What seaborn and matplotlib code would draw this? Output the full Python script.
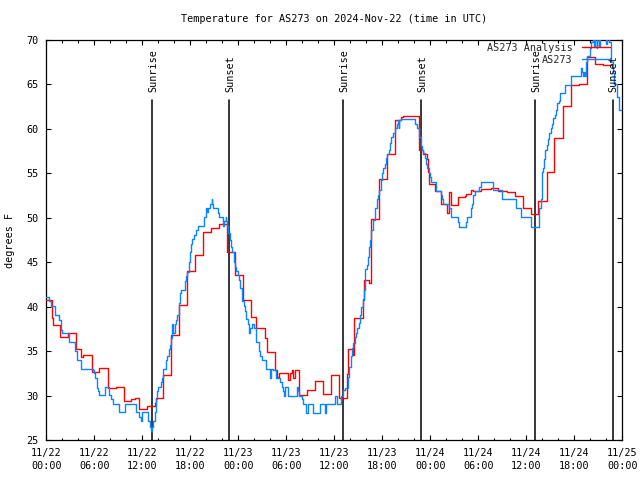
import matplotlib
matplotlib.use("Agg")
import matplotlib.pyplot as plt
import matplotlib.dates as mdates
import matplotlib.transforms as mtransforms
import numpy as np
import pandas as pd
import seaborn as sns

# ---------------- data ----------------
start = pd.Timestamp("2024-11-22 00:00")
end_hours = 72

series_names = ["AS273 Analysis", "AS273"]
series_colors = ["#ff0000", "#0a84ff"]

# hours after 11/22 00:00 UTC, temperature in degrees F (step values)
red_hours = [0.0, 0.7, 0.85, 1.7, 2.7, 3.7, 4.4, 4.6, 5.7, 6.6, 7.7, 8.7, 9.7, 10.6, 11.1,
             11.6, 12.6, 13.55, 13.7, 14.6, 15.6, 16.6, 17.6, 18.6, 19.6, 20.6, 21.6, 22.6,
             23.6, 24.6, 25.6, 26.2, 27.3, 27.6, 28.6, 28.9, 29.1, 30.25, 30.45, 30.75, 30.9,
             31.1, 31.65, 32.6, 33.6, 34.6, 35.6, 36.6, 37.6, 37.7, 38.3, 38.5, 39.6, 39.75,
             40.3, 40.6, 41.6, 42.6, 43.6, 44.4, 44.6, 45.6, 46.6, 47.1, 47.6, 47.75, 47.9,
             48.6, 49.3, 49.4, 50.1, 50.3, 50.65, 51.5, 52.3, 52.5, 53.1, 53.3, 54.4, 55.6,
             56.5, 57.55, 58.6, 59.55, 60.55, 61.5, 62.55, 63.5, 64.55, 65.55, 66.55, 67.55,
             68.55, 69.55, 70.6]
red_temps = [40.8, 38.7, 37.9, 36.6, 37.0, 35.2, 34.3, 34.6, 32.7, 33.1, 30.9, 31.0, 29.35,
             29.6, 29.7, 28.45, 28.8, 29.2, 29.7, 32.3, 36.8, 40.15, 44.0, 45.8, 48.4, 48.9,
             49.3, 46.1, 43.6, 40.8, 38.8, 37.6, 36.5, 34.9, 32.9, 32.1, 32.5, 31.8, 32.5,
             32.9, 32.0, 32.9, 30.1, 30.6, 31.6, 30.2, 32.3, 29.7, 32.4, 35.2, 34.6, 38.7,
             40.9, 43.0, 42.7, 49.9, 54.4, 57.2, 61.0, 61.3, 61.4, 61.5, 57.6, 57.2, 56.6,
             55.1, 53.8, 53.0, 52.4, 51.6, 50.5, 52.9, 51.4, 52.3, 52.4, 52.7, 53.1, 53.0,
             53.2, 53.3, 53.0, 52.9, 52.4, 51.1, 50.4, 51.9, 55.1, 59.0, 62.6, 64.9, 65.0,
             68.1, 67.3, 67.2, 67.2]

blue_hours = [0.0, 0.38, 0.55, 1.05, 1.13, 1.63, 1.8, 1.88, 1.96, 2.8, 2.88, 3.55, 3.63, 3.8,
              3.88, 4.3, 5.8, 5.96, 6.13, 6.3, 6.46, 6.63, 7.38, 7.88, 8.13, 8.38, 9.13, 9.8,
              9.88, 11.2, 11.63, 11.8, 11.96, 12.7, 12.96, 13.08, 13.21, 13.38, 13.54, 13.71,
              13.8, 13.96, 14.3, 14.46, 14.63, 14.96, 15.13, 15.3, 15.46, 15.63, 15.71, 15.88,
              16.04, 16.21, 16.3, 16.54, 16.71, 16.8, 17.3, 17.46, 17.55, 17.88, 17.96, 18.09,
              18.25, 18.5, 18.75, 19.0, 19.75, 19.92, 20.0, 20.08, 20.17, 20.5, 20.67, 20.75,
              20.84, 21.42, 21.59, 22.09, 22.25, 22.42, 22.5, 22.59, 22.75, 22.92, 23.09,
              23.25, 23.42, 23.59, 23.75, 23.92, 24.09, 24.25, 24.5, 24.67, 24.84, 25.0, 25.17,
              25.34, 25.5, 25.67, 26.0, 26.17, 26.25, 26.59, 26.75, 26.92, 27.5, 27.96, 28.1,
              28.3, 28.75, 29.25, 29.42, 29.59, 29.75, 29.84, 30.17, 31.4, 31.5, 31.6, 31.92,
              32.09, 32.5, 32.67, 33.38, 34.21, 34.9, 35.0, 36.1, 36.4, 36.9, 37.1, 37.3,
              37.71, 37.88, 38.05, 38.21, 38.3, 38.63, 38.71, 38.88, 39.05, 39.21, 39.38,
              39.55, 39.71, 39.8, 39.88, 40.05, 40.21, 40.38, 40.46, 40.63, 40.88, 41.13, 41.3,
              41.46, 41.63, 41.8, 41.96, 42.13, 42.3, 42.46, 42.63, 42.8, 42.96, 43.13, 43.38,
              43.63, 43.8, 43.96, 44.05, 44.13, 44.3, 46.13, 46.38, 46.55, 46.63, 46.8, 46.96,
              47.13, 47.3, 47.46, 47.63, 47.8, 47.96, 48.13, 48.71, 49.3, 49.46, 49.63, 50.38,
              50.55, 50.63, 51.46, 51.55, 52.5, 52.6, 53.05, 53.13, 53.21, 53.3, 53.38, 53.55,
              54.05, 54.3, 55.8, 56.92, 58.71, 59.3, 60.55, 61.65, 61.8, 61.96, 62.13, 62.21,
              62.38, 62.55, 62.71, 62.88, 63.05, 63.21, 63.38, 63.55, 63.71, 63.88, 64.05,
              64.21, 64.88, 65.55, 66.8, 66.96, 67.1, 67.2, 67.3, 67.46, 67.63, 67.96, 68.13,
              68.3, 68.5, 68.6, 68.8, 68.9, 69.1, 69.2, 70.0, 70.1, 70.4, 70.55, 70.8, 71.0,
              71.3, 71.55, 72.0]
blue_temps = [41.05, 40.6, 40.1, 39.5, 39.05, 38.5, 37.9, 37.4, 37.0, 36.55, 36.0, 35.5, 35.0,
              34.5, 34.0, 33.0, 32.9, 32.5, 32.0, 30.9, 30.5, 30.1, 31.0, 30.1, 29.6, 29.1,
              28.1, 28.6, 29.1, 28.1, 27.6, 27.1, 28.1, 27.1, 26.5, 26.0, 26.5, 27.1, 28.1,
              29.6, 30.5, 31.0, 31.5, 32.0, 33.0, 34.0, 34.5, 35.2, 35.7, 36.5, 38.0, 37.0,
              38.0, 38.5, 39.05, 40.4, 41.5, 41.9, 42.9, 43.4, 43.9, 45.0, 46.1, 47.1, 47.6,
              48.1, 48.6, 49.1, 50.05, 50.6, 51.1, 50.6, 51.1, 51.55, 52.1, 51.55, 51.1, 50.5,
              50.05, 49.1, 49.6, 50.05, 49.6, 49.1, 48.25, 47.5, 46.75, 46.1, 45.06, 44.5,
              44.0, 43.6, 43.0, 42.1, 40.6, 40.1, 39.5, 38.6, 38.1, 37.0, 37.6, 38.1, 37.6,
              37.0, 36.0, 35.0, 34.5, 34.0, 33.0, 32.0, 33.0, 32.9, 32.0, 31.5, 31.0, 30.5,
              30.0, 31.0, 30.0, 31.0, 30.5, 30.0, 29.6, 29.0, 28.0, 29.0, 28.0, 29.0, 28.0,
              29.0, 30.0, 29.0, 30.0, 30.6, 30.9, 32.05, 33.25, 34.4, 35.3, 35.9, 36.55, 37.0,
              37.56, 38.2, 39.06, 40.0, 40.75, 41.87, 43.0, 44.2, 44.7, 45.6, 46.75, 47.5,
              48.6, 49.7, 51.06, 52.07, 52.56, 53.1, 54.2, 55.07, 55.56, 56.1, 56.7, 57.2,
              57.6, 58.4, 59.05, 59.5, 60.06, 60.55, 61.0, 60.06, 61.0, 61.07, 60.6, 60.06,
              59.5, 59.05, 58.07, 57.6, 57.25, 56.7, 56.1, 55.56, 55.07, 54.55, 54.06, 53.05,
              52.56, 52.07, 51.6, 51.06, 50.5, 50.05, 49.56, 49.0, 49.56, 50.05, 50.5, 51.06,
              51.6, 52.07, 52.56, 53.05, 53.5, 54.06, 53.1, 52.1, 51.06, 50.05, 49.0, 51.06,
              52.1, 55.1, 55.56, 56.6, 57.6, 58.2, 58.9, 59.5, 60.06, 60.6, 61.2, 61.56, 62.1,
              62.9, 63.1, 64.0, 64.9, 66.0, 66.8, 66.4, 66.0, 66.4, 66.0, 67.55, 68.2, 69.06,
              69.8, 70.6, 69.2, 70.8, 69.1, 70.5, 69.3, 71.0, 69.5, 70.6, 69.8, 67.5, 66.25,
              65.1, 63.6, 62.1, 62.1]

sun_labels = ["Sunrise", "Sunset", "Sunrise", "Sunset", "Sunrise", "Sunset"]
sun_hours = [13.22, 22.9, 37.12, 46.9, 61.1, 70.78]

y_ticks = [25, 30, 35, 40, 45, 50, 55, 60, 65, 70]
title = "Temperature for AS273 on 2024-Nov-22 (time in UTC)"
y_label = "degrees F"

# ---------------- build table ----------------
def to_time(hours):
    return start + pd.to_timedelta(np.asarray(hours, dtype=float), unit="h")

df = pd.concat([
    pd.DataFrame({"time": to_time(red_hours), "temp": red_temps, "series": series_names[0]}),
    pd.DataFrame({"time": to_time(blue_hours), "temp": blue_temps, "series": series_names[1]}),
], ignore_index=True)

# ---------------- style ----------------
sns.set_theme(style="ticks")
plt.rcParams["font.family"] = ["DejaVu Sans Mono", "DejaVu Sans"]
FS = 7.3
plt.rcParams["font.size"] = FS

fig = plt.figure(figsize=(6.4, 4.8), dpi=100)
fig.patch.set_facecolor("white")
ax = fig.add_axes([46.3 / 640, 40 / 480, 576 / 640, 400 / 480])
ax.set_facecolor("white")

sns.lineplot(data=df, x="time", y="temp", hue="series", hue_order=series_names,
             palette=dict(zip(series_names, series_colors)), drawstyle="steps-post",
             estimator=None, linewidth=1.0, ax=ax, zorder=3)

# sunrise / sunset markers
line_top = 63.3
for lbl, h in zip(sun_labels, sun_hours):
    t = to_time([h])[0]
    ax.axvline(t, ymin=0, ymax=(line_top - 25) / 45, color="black", lw=1.1, zorder=2)
    tr = mtransforms.offset_copy(ax.transData, fig=fig, x=1.2, y=0, units="dots")
    ax.text(t, 64.15, lbl, rotation=90, ha="center", va="bottom", fontsize=FS,
            color="black", transform=tr, zorder=4)

# axes
ax.set_xlim(start, start + pd.Timedelta(hours=end_hours))
ax.set_ylim(25, 70)
ax.set_yticks(y_ticks)
ax.set_yticklabels([str(v) for v in y_ticks])
major = pd.date_range(start, start + pd.Timedelta(hours=end_hours), freq="6h")
ax.set_xticks(major)
ax.set_xticklabels([d.strftime("%m/%d\n%H:%M") for d in major])
ax.xaxis.set_minor_locator(mdates.HourLocator(byhour=range(0, 24, 2)))
ax.tick_params(which="both", direction="in", top=True, right=True, colors="black",
               labelsize=FS, width=0.8)
ax.tick_params(which="major", length=3.5)
ax.tick_params(axis="x", which="major", pad=5.5)
ax.tick_params(axis="y", which="major", pad=5.5)
ax.tick_params(which="minor", length=1.8)
for lab in ax.get_xticklabels():
    lab.set_linespacing(1.45)
for sp in ax.spines.values():
    sp.set_color("black")
    sp.set_linewidth(0.9)

ax.set_xlabel("")
ax.set_ylabel(y_label, fontsize=FS, color="black")
ax.yaxis.set_label_coords((15 - 46.3) / 576, 0.5)

fig.text(334 / 640, 1 - 19 / 480, title, ha="center", va="center", fontsize=FS, color="black")

handles, labels = ax.get_legend_handles_labels()
leg = ax.legend(handles, labels, loc="upper right",
                bbox_to_anchor=((610 - 46.3) / 576, (440 - 43) / 400),
                frameon=False, markerfirst=False, borderpad=0, borderaxespad=0,
                handlelength=2.8, handletextpad=0.9, labelspacing=0.15, fontsize=FS)
for lh in leg.get_lines():
    lh.set_linewidth(1.0)

fig.savefig("out.png", dpi=100, facecolor="white")
